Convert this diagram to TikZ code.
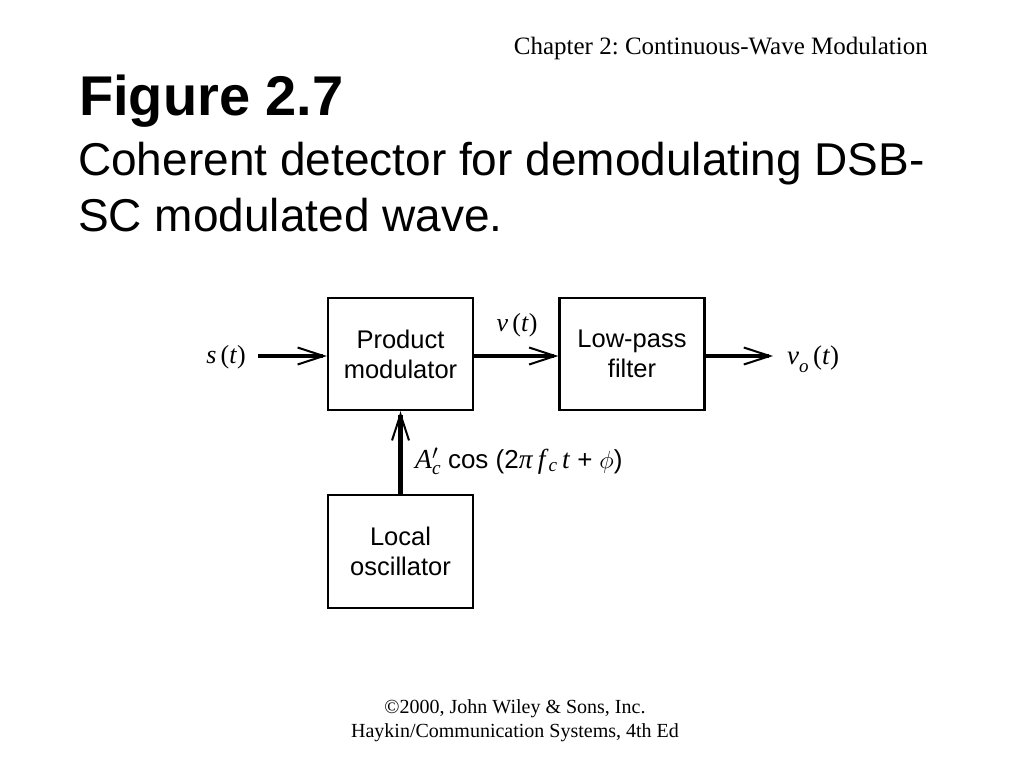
\documentclass[tikz,border=0pt]{standalone}
\usepackage{amsmath}
\usepackage{fontspec}
\setmainfont{Liberation Serif}
\newfontfamily\hsans{Liberation Sans}
\usetikzlibrary{arrows.meta}
\newcommand\mi[1]{\textit{#1\/}}
\newcommand\subc{$_{\text{\itshape c}}$}
\newcommand\lsans[1]{{\hsans\fontsize{26}{30}\selectfont #1}}
\frenchspacing
\begin{document}
\begin{tikzpicture}[x=1pt,y=-1pt,
  blk/.style={draw, line width=2.4pt, minimum width=145pt, minimum height=112pt,
    inner sep=0pt, align=center, font=\hsans\fontsize{25.5}{30}\selectfont},
  sig/.style={line width=4.3pt, -{Straight Barb[length=26pt,width=17pt,line width=2pt]}},
  lbl/.style={inner sep=0pt, font=\fontsize{26}{30}\selectfont},
  txt/.style={inner sep=0pt}]
\useasboundingbox (0,0) rectangle (1024,768);
\fill[white] (0,0) rectangle (1024,768);

% header and titles
\node[txt, anchor=base east, font=\fontsize{25}{30}\selectfont] (hdr) at (928,55) {Chapter 2: Continuous-Wave Modulation};
\node[txt, anchor=base west, font=\hsans\bfseries\fontsize{56}{62}\selectfont] (fig) at (79,115) {Figure 2.7};
\node[txt, anchor=base west, font=\hsans\fontsize{46}{54}\selectfont] (sub1) at (78,175) {Coherent detector for demodulating DSB-};
\node[txt, anchor=base west, font=\hsans\fontsize{46}{54}\selectfont] (sub2) at (78,231) {SC modulated wave.};

% blocks
\node[blk] (pm) at (400.5,354) {Product\\modulator};
\node[blk] (lpf) at (632,354) {Low-pass\\filter};
\node[blk, minimum height=113pt] (lo) at (400.5,551.5) {Local\\oscillator};

% connectors
\coordinate (sin) at (258,356);
\coordinate (vout) at (773,356);
\draw[sig] (sin) -- (sin -| pm.west);
\draw[sig] (pm.east |- sin) -- (lpf.west |- sin);
\draw[sig] (lpf.east |- sin) -- (vout);
\draw[sig] (lo.north) -- (pm.south);

% labels
\node[lbl, anchor=east] (ls) at (246,357) {\mi{s}\,(\mi{t})};
\node[lbl] (lv) at (517,325) {\mi{v}\,(\mi{t})};
\node[lbl, anchor=west, font=\fontsize{27}{30}\selectfont] (lvo) at (787,359) {\mi{v}\raisebox{-0.3em}{\fontsize{19}{20}\selectfont\itshape o}\,(\mi{t})};
\node[lbl, anchor=west, font=\fontsize{27.5}{32}\selectfont] (lc) at (415,461) {\mi{A}$^{\prime}_{\text{\itshape c}}$\ \lsans{cos (2}\mi{π}\,\mi{f}\subc\,\mi{t} \lsans{+} $\phi$\lsans{)}};

% footer
\node[txt, anchor=base, font=\fontsize{20}{24}\selectfont] (ft1) at (515,713) {\textcopyright2000, John Wiley \& Sons, Inc.};
\node[txt, anchor=base, font=\fontsize{20}{24}\selectfont] (ft2) at (515,737) {Haykin/Communication Systems, 4th Ed};
\end{tikzpicture}
\end{document}
